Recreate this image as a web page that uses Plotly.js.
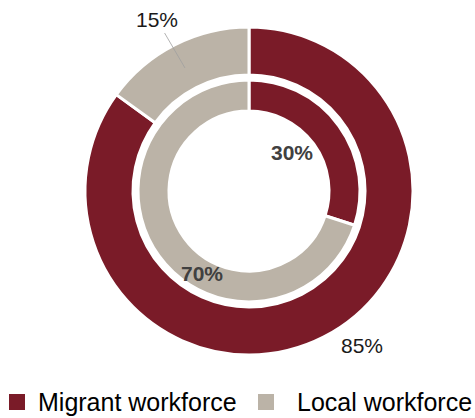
<!DOCTYPE html>
<html>
<head>
<meta charset="utf-8">
<script src="https://cdn.plot.ly/plotly-3.0.1.min.js"></script>
<style>
  html, body { margin: 0; padding: 0; background: #ffffff; }
  #chart { width: 475px; height: 418px; }
</style>
</head>
<body>
<div id="chart"></div>
<script>
// Workforce composition: outer ring and inner ring (percent shares)
const categories = ['Migrant workforce', 'Local workforce'];
const outerValues = [85, 15];
const innerValues = [30, 70];
const colors = ['#7a1b28', '#bbb3a7'];

const W = 475, H = 418;
const px = x => x / W;
const py = y => 1 - y / H;

// Ring geometry in pixels (centre and radii)
const cx = 249, cy = 191;
const outerR = 164, outerHole = 116;
const innerR = 111, innerHole = 80;

function domainFor(r) {
  return {
    x: [px(cx - r), px(cx + r)],
    y: [py(cy + r), py(cy - r)]
  };
}

const common = {
  type: 'pie',
  labels: categories,
  sort: false,
  direction: 'clockwise',
  rotation: 0,
  textinfo: 'none',
  hoverinfo: 'label+value',
  showlegend: false,
  marker: { colors: colors, line: { color: '#ffffff', width: 3 } }
};

const outer = Object.assign({}, common, {
  values: outerValues,
  hole: outerHole / outerR,
  domain: domainFor(outerR)
});

const inner = Object.assign({}, common, {
  values: innerValues,
  hole: innerHole / innerR,
  domain: domainFor(innerR)
});

const family = 'Liberation Sans, Arial, sans-serif';
const labelFont = { family: family, size: 21, color: '#1a1a1a' };
const boldFont = { family: family, size: 21, color: '#404040', weight: 'bold' };

const annotations = [
  { // local share, outer ring, with leader line
    text: outerValues[1] + '%', xref: 'paper', yref: 'paper',
    x: px(185), y: py(68), ax: -28, ay: -48,
    xanchor: 'center', yanchor: 'middle',
    showarrow: true, arrowhead: 0, arrowwidth: 0.8, arrowcolor: '#a0a0a0',
    font: labelFont
  },
  { // migrant share, outer ring
    text: outerValues[0] + '%', xref: 'paper', yref: 'paper',
    x: px(362), y: py(345), xanchor: 'center', yanchor: 'middle',
    showarrow: false, font: labelFont
  },
  { // migrant share, inner ring
    text: '<b>' + innerValues[0] + '%</b>', xref: 'paper', yref: 'paper',
    x: px(292), y: py(152), xanchor: 'center', yanchor: 'middle',
    showarrow: false, font: boldFont
  },
  { // local share, inner ring
    text: '<b>' + innerValues[1] + '%</b>', xref: 'paper', yref: 'paper',
    x: px(202), y: py(273), xanchor: 'center', yanchor: 'middle',
    showarrow: false, font: boldFont
  }
];

// Legend row: colour swatch followed by its category name
const swatchX = [9, 258];
const legendTextX = [36, 295];
const legendY = 402;
const swatchSize = 16;
const shapes = [];
categories.forEach((name, i) => {
  shapes.push({
    type: 'rect', xref: 'paper', yref: 'paper',
    x0: px(swatchX[i]), x1: px(swatchX[i] + swatchSize),
    y0: py(legendY + swatchSize / 2), y1: py(legendY - swatchSize / 2),
    fillcolor: colors[i], line: { width: 0 }
  });
  annotations.push({
    text: name, xref: 'paper', yref: 'paper',
    x: px(legendTextX[i]), y: py(legendY), xanchor: 'left', yanchor: 'middle',
    showarrow: false, font: { family: family, size: 25, color: '#000000' }
  });
});

const layout = {
  width: W,
  height: H,
  margin: { l: 0, r: 0, t: 0, b: 0, autoexpand: false },
  paper_bgcolor: '#ffffff',
  plot_bgcolor: '#ffffff',
  font: { family: family, color: '#000000' },
  showlegend: false,
  shapes: shapes,
  annotations: annotations
};

Plotly.newPlot('chart', [outer, inner], layout, { displayModeBar: false, staticPlot: true });
</script>
</body>
</html>
